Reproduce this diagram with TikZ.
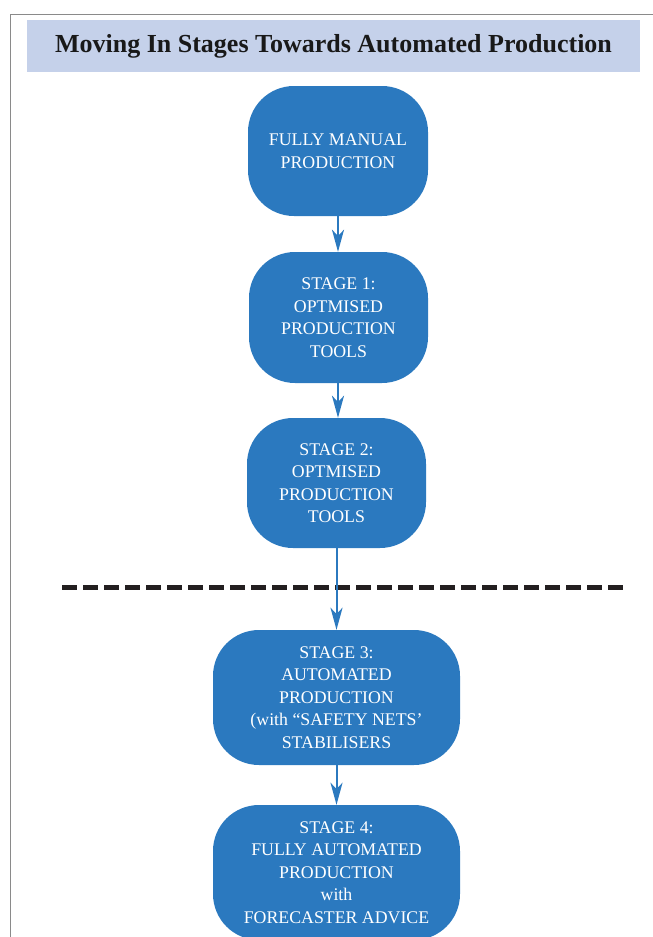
\documentclass[tikz,border=0pt]{standalone}
\usepackage{fontspec}
\setmainfont{Liberation Serif}
\usetikzlibrary{arrows.meta}
\definecolor{stageblue}{HTML}{2B79BF}
\definecolor{titleband}{HTML}{C5D1EA}
\definecolor{framegray}{HTML}{8A8A8A}
\definecolor{dashblack}{HTML}{231F20}
\tikzset{
  stagebox/.style={fill=stageblue, draw=none, rounded corners=46pt, text=white,
    align=center, inner sep=0pt, font=\fontsize{17.8}{22.5}\selectfont},
  flowarrow/.style={draw=stageblue, line width=2pt,
    -{Stealth[length=22pt,width=12pt,inset=6pt]}},
}
\begin{document}
\begin{tikzpicture}[x=1pt,y=-1pt]
\useasboundingbox (0,0) rectangle (653,937);
\clip (0,0) rectangle (653,937);
% frame
\draw[framegray, line width=1.2pt] (10.5,937) -- (10.5,14.5) -- (653,14.5);
% title band
\node[fill=titleband, minimum width=613pt, minimum height=52pt, inner sep=0pt,
  font=\fontsize{26}{30}\selectfont\bfseries, text=black!90] (title) at (333.5,46) {Moving In Stages Towards Automated Production};
% stages
\node[stagebox, minimum width=180pt, minimum height=130pt] (s0) at (338,151) {FULLY MANUAL\\PRODUCTION};
\node[stagebox, minimum width=179pt, minimum height=131pt] (s1) at (338.5,317.5) {STAGE 1:\\OPTMISED\\PRODUCTION\\TOOLS};
\node[stagebox, minimum width=179pt, minimum height=130pt] (s2) at (336.5,483) {STAGE 2:\\OPTMISED\\PRODUCTION\\TOOLS};
\node[stagebox, minimum width=247pt, minimum height=135pt] (s3) at (336.5,697.5) {STAGE 3:\\AUTOMATED\\PRODUCTION\\(with ``SAFETY NETS'\\STABILISERS};
\node[stagebox, minimum width=247pt, minimum height=135pt] (s4) at (336.5,872.5) {STAGE 4:\\FULLY AUTOMATED\\PRODUCTION\\with\\FORECASTER ADVICE};
% dashed divider
\coordinate (dl) at (62,587);
\coordinate (dr) at (624,587);
\draw[dashblack, line width=5pt, dash pattern=on 15pt off 6pt] (dl) -- (dr);
% arrows
\draw[flowarrow] (s0.south) -- (s1.north -| s0.south);
\draw[flowarrow] (s1.south -| s0.south) -- (s2.north -| s0.south);
\draw[flowarrow] (s2.south) -- (s3.north);
\draw[flowarrow] (s3.south) -- (s4.north);
\end{tikzpicture}
\end{document}
